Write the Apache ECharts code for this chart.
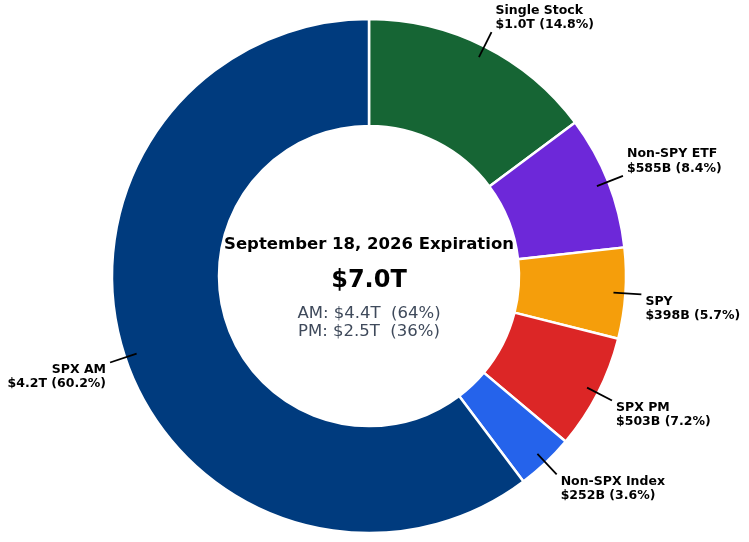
<!DOCTYPE html>
<html>
<head>
<meta charset="utf-8">
<script src="https://cdn.jsdelivr.net/npm/echarts@6/dist/echarts.min.js"></script>
<style>
html, body { margin: 0; padding: 0; background: #fff; }
#main { width: 749px; height: 542px; }
</style>
</head>
<body>
<div id="main"></div>
<script>
// slices, clockwise from 12 o'clock
var names = ['Single Stock', 'Non-SPY ETF', 'SPY', 'SPX PM', 'Non-SPX Index', 'SPX AM'];
var amounts = ['$1.0T', '$585B', '$398B', '$503B', '$252B', '$4.2T'];
var shares = [14.8, 8.4, 5.7, 7.2, 3.6, 60.2];
var colors = ['#166534', '#6d28d9', '#f59e0b', '#dc2626', '#2563eb', '#003b7e'];

var centerTitle = 'September 18, 2026 Expiration';
var centerTotal = '$7.0T';
var centerLines = ['AM: $4.4T  (64%)', 'PM: $2.5T  (36%)'];

var FONT = 'DejaVu Sans';
var CX = 369, CY = 276;

// which side of its leader line each label sits on (above when the wedge middle is in the upper half)
var total = shares.reduce(function (a, b) { return a + b; }, 0);
var cum = 0;
var above = [];
var ringData = [];
for (var i = 0; i < names.length; i++) {
    var mid = (90 - (cum + shares[i] / 2) / total * 360) * Math.PI / 180;
    cum += shares[i];
    above.push(Math.sin(mid) > 0);
    ringData.push({ name: names[i], value: shares[i], itemStyle: { color: colors[i] } });
}

var myChart = echarts.init(document.getElementById('main'));
var option = {
    animation: false,
    backgroundColor: '#fff',
    series: [
        {
            type: 'pie',
            z: 2,
            center: [CX, CY],
            radius: [150, 257],
            startAngle: 90,
            clockwise: true,
            silent: true,
            itemStyle: { borderColor: '#fff', borderWidth: 2.5 },
            label: { show: false },
            labelLine: { show: false },
            data: ringData
        },
        {
            // invisible copy only for the labels, so the leader lines start inside the wedge
            type: 'pie',
            z: 5,
            center: [CX, CY],
            radius: [150, 245],
            startAngle: 90,
            clockwise: true,
            silent: true,
            avoidLabelOverlap: false,
            itemStyle: { color: 'rgba(0,0,0,0)', borderWidth: 0 },
            label: {
                show: true,
                position: 'outside',
                fontFamily: FONT,
                fontWeight: 'bold',
                fontSize: 12.5,
                lineHeight: 14.5,
                color: '#000',
                distanceToLabelLine: 4,
                formatter: function (p) {
                    var t = names[p.dataIndex] + '\n' + amounts[p.dataIndex] +
                        ' (' + shares[p.dataIndex].toFixed(1) + '%)';
                    return above[p.dataIndex] ? t + '\n \n ' : ' \n \n' + t;
                }
            },
            labelLine: {
                show: true,
                length: 28,
                length2: 0,
                lineStyle: { color: '#000', width: 1.8 }
            },
            data: ringData.map(function (d) { return { name: d.name, value: d.value }; })
        }
    ],
    graphic: [
        {
            type: 'text', x: CX, y: 245,
            style: { text: centerTitle, font: 'bold 16.5px "DejaVu Sans"', fill: '#000', align: 'center', verticalAlign: 'middle' }
        },
        {
            type: 'text', x: CX, y: 281,
            style: { text: centerTotal, font: 'bold 24px "DejaVu Sans"', fill: '#000', align: 'center', verticalAlign: 'middle' }
        },
        {
            type: 'text', x: CX, y: 314,
            style: { text: centerLines[0], font: '16.5px "DejaVu Sans"', fill: '#3f4a5b', align: 'center', verticalAlign: 'middle' }
        },
        {
            type: 'text', x: CX, y: 332,
            style: { text: centerLines[1], font: '16.5px "DejaVu Sans"', fill: '#3f4a5b', align: 'center', verticalAlign: 'middle' }
        }
    ]
};
myChart.setOption(option);
</script>
</body>
</html>
